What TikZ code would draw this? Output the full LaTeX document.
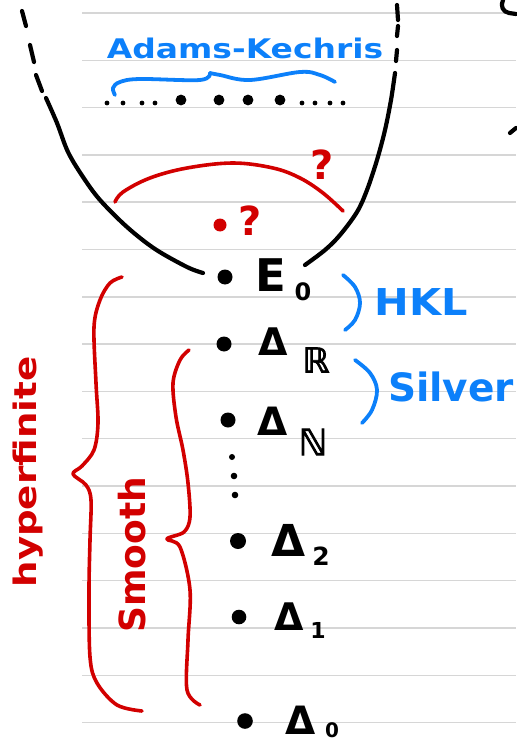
\documentclass[tikz,border=0pt]{standalone}
\usepackage{fontspec}
\setmainfont{DejaVu Sans}
\newfontfamily\bbfont[FakeBold=2.5]{DejaVu Sans}
\definecolor{inkred}{RGB}{210,0,0}
\definecolor{inkblue}{RGB}{12,128,250}
\definecolor{ruleclr}{RGB}{214,214,214}
\tikzset{
  ruleline/.style={draw=ruleclr, line width=1.4pt},
  blackink/.style={draw=black, line width=4.2pt, line cap=round, line join=round},
  redink/.style={draw=inkred, line width=3.6pt, line cap=round, line join=round},
  blueink/.style={draw=inkblue, line width=3.8pt, line cap=round, line join=round},
  lbl/.style={inner sep=0pt, outer sep=0pt},
}
\newcommand{\fs}[1]{\fontsize{#1}{#1}\selectfont}
\begin{document}
\begin{tikzpicture}[x=1pt,y=-1pt]
\useasboundingbox (0,0) rectangle (516,743);
% ruled lines
\foreach \k in {0,...,15} \draw[ruleline] (82,13+47.3*\k) -- (516,13+47.3*\k);

% black parabola
\draw[blackink] plot[smooth,tension=0.55] coordinates {(46,98) (57,123) (68,152) (83,177) (100,200) (127,227) (155,249) (187,267) (203,273)};
\draw[blackink] plot[smooth,tension=0.55] coordinates {(395,73) (391,100) (385,130) (377,160) (367,190) (357,212) (340,235) (325,250) (305,265)};
\draw[blackink] (22,11) -- (26,26);
\draw[blackink] (30,45) -- (34,62);
\draw[blackink] (36,75) -- (42,91);
\draw[blackink] (397,5) -- (398,20);
\draw[blackink] (398,26) -- (397,36);
\draw[blackink] (397,50) -- (396,61);

% top-right fragments
\draw[blackink] (503,0) .. controls (500,6) and (503,12) .. (509,13) -- (516,14);
\draw[blackink] (510,133) -- (516,128);

% row of dots
\foreach \x in {107,123,142,155,302,315,330,343} \fill (\x,103) circle (2.4pt);
\foreach \x in {181,219,248,280} \fill (\x,100) circle (5.4pt);

% Adams-Kechris brace and label
\draw[blueink] plot[smooth,tension=0.6] coordinates {(115,95) (113,88) (120,82) (140,79) (200,80) (210,73)};
\draw[blueink] plot[smooth,tension=0.6] coordinates {(210,73) (220,75) (250,80) (300,72) (320,75) (335,82)};
\node[lbl, text=inkblue, font=\bfseries\fs{27}] (ak) at (245,48) {\scalebox{1.22}[1]{Adams-Kechris}};

% red arc and question marks
\draw[redink] plot[smooth,tension=0.6] coordinates {(115,202) (123,192) (150,178) (187,168) (233,163) (273,168) (300,178) (323,193) (343,211)};
\node[lbl, text=inkred, font=\bfseries\fs{40}] (q1) at (322,165) {?};
\fill[inkred] (220,225) circle (6.5pt);
\node[lbl, text=inkred, font=\bfseries\fs{40}] (q2) at (250,221) {?};

% black points and labels
\fill (225,277) circle (7.5pt);
\node[lbl, font=\bfseries\fs{45}] (e0) at (271,275) {E};
\node[lbl, font=\bfseries\fs{24}] (e0s) at (303,292) {0};

\fill (224,344) circle (7.5pt);
\node[lbl, font=\bfseries\fs{38}] (dr) at (273,342) {Δ};
\node[lbl, font=\bbfont\fs{34}] (drs) at (316,360) {ℝ};

\fill (228,420) circle (7.5pt);
\node[lbl, font=\bfseries\fs{39}] (dn) at (273,421) {Δ};
\node[lbl, font=\bbfont\fs{36}] (dns) at (313,442) {ℕ};

\fill (232,457) circle (3pt);
\fill (234,476) circle (3.3pt);
\fill (235,495) circle (3.3pt);

\fill (238,541) circle (8pt);
\node[lbl, font=\bfseries\fs{44}] (d2) at (289,540) {Δ};
\node[lbl, font=\bfseries\fs{25}] (d2s) at (321,556) {2};

\fill (239,617) circle (7.3pt);
\node[lbl, font=\bfseries\fs{38}] (d1) at (289,617) {Δ};
\node[lbl, font=\bfseries\fs{22}] (d1s) at (318,630) {1};

\fill (245,721) circle (7.8pt);
\node[lbl, font=\bfseries\fs{39}] (d0) at (301,720) {Δ};
\node[lbl, font=\bfseries\fs{20}] (d0s) at (332,730) {0};

% blue parentheses and labels
\draw[blueink] plot[smooth,tension=0.6] coordinates {(343,275) (355,287) (360,303) (355,320) (345,330)};
\node[lbl, text=inkblue, font=\bfseries\fs{37}] (hkl) at (421,302) {\scalebox{1.12}[1]{HKL}};
\draw[blueink] plot[smooth,tension=0.6] coordinates {(355,360) (370,373) (377,390) (372,410) (362,423)};
\node[lbl, text=inkblue, font=\bfseries\fs{39}] (silver) at (451,387) {Silver};

% red braces
\draw[redink] plot[smooth,tension=0.55] coordinates {(122,277) (110,283) (100,300) (94,327) (96,383) (98,423) (94,450) (82,466) (73,474) (86,485) (91,500) (90,540) (89,590) (90,657) (97,683) (117,705) (142,711)};
\draw[redink] plot[smooth,tension=0.55] coordinates {(189,350) (180,360) (173,383) (176,417) (183,450) (188,483) (190,517) (184,532) (167,539) (180,547) (190,590) (188,640) (187,690) (200,705)};

\node[lbl, text=inkred, font=\bfseries\fs{31}, rotate=90] (hyp) at (28,472) {\scalebox{1.2}[1]{hyperfinite}};
\node[lbl, text=inkred, font=\bfseries\fs{36}, rotate=90] (smooth) at (132,555) {Smooth};
\end{tikzpicture}
\end{document}
